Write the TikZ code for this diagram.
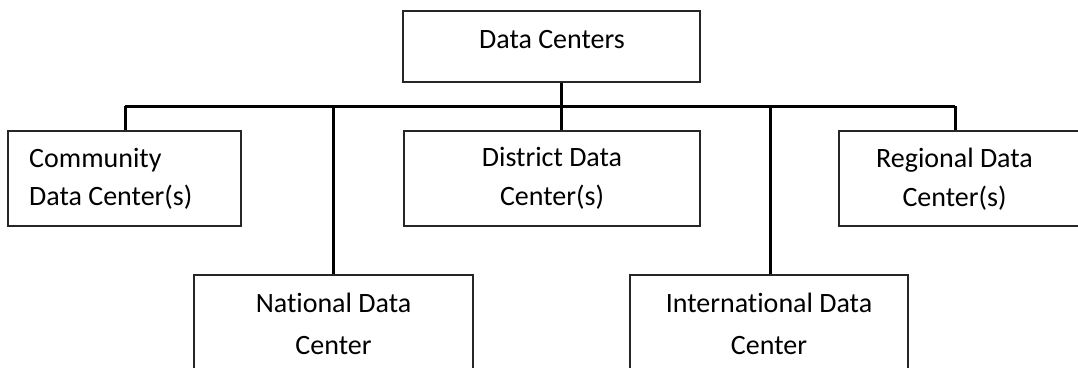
\documentclass[tikz,border=0pt]{standalone}
\usepackage{fontspec}
\setmainfont{Carlito}[Ligatures=CommonOff]
\begin{document}
\begin{tikzpicture}[x=1pt,y=-1pt,
  box/.style={draw=black!85, line width=1.3pt, rectangle, inner sep=0pt},
  lbl/.style={font=\fontsize{28}{38.5}\selectfont, inner sep=0pt, align=center},
  lbllow/.style={font=\fontsize{28}{42}\selectfont, inner sep=0pt, align=center},
  conn/.style={draw=black, line width=3pt}]
  \useasboundingbox (0,0) rectangle (1078,367);
  \clip (0,0) rectangle (1078,367);

  % top-level box
  \node[box, minimum width=297pt, minimum height=71pt] (top) at (551.5,46.5) {};
  \node[lbl] (toptext) at (552,40) {Data Centers};

  % first row
  \node[box, minimum width=233pt, minimum height=95pt] (community) at (124.5,178.5) {};
  \node[lbl, align=left, anchor=west] (communitytext) at (29,179) {Community\\Data Center(s)};
  \node[box, minimum width=296pt, minimum height=95pt, lbl]
    (district) at (552,178.5) {District Data\\Center(s)};
  \node[box, minimum width=260pt, minimum height=95pt] (regional) at (969,178.5) {};
  \node[lbl] (regionaltext) at (954.5,179) {Regional Data\\Center(s)};

  % second row (boxes run past the lower edge)
  \node[box, minimum width=279pt, minimum height=98pt, lbllow]
    (national) at (333.5,324) {National Data\\Center};
  \node[box, minimum width=278pt, minimum height=98pt, lbllow]
    (international) at (769,324) {International Data\\Center};

  % connector bus
  \coordinate (busL) at (125,106);
  \coordinate (busR) at (955,106);
  \coordinate (trunk) at (561,106);
  \draw[conn] (busL) -- (busR);
  \draw[conn] (trunk |- top.south) -- (trunk |- district.north);
  \draw[conn] (busL) -- (busL |- community.north);
  \draw[conn] (busR) -- (busR |- regional.north);
  \draw[conn] (national.north |- busL) -- (national.north);
  \draw[conn] ([xshift=1pt]international.north |- busL) -- ([xshift=1pt]international.north);
\end{tikzpicture}
\end{document}
